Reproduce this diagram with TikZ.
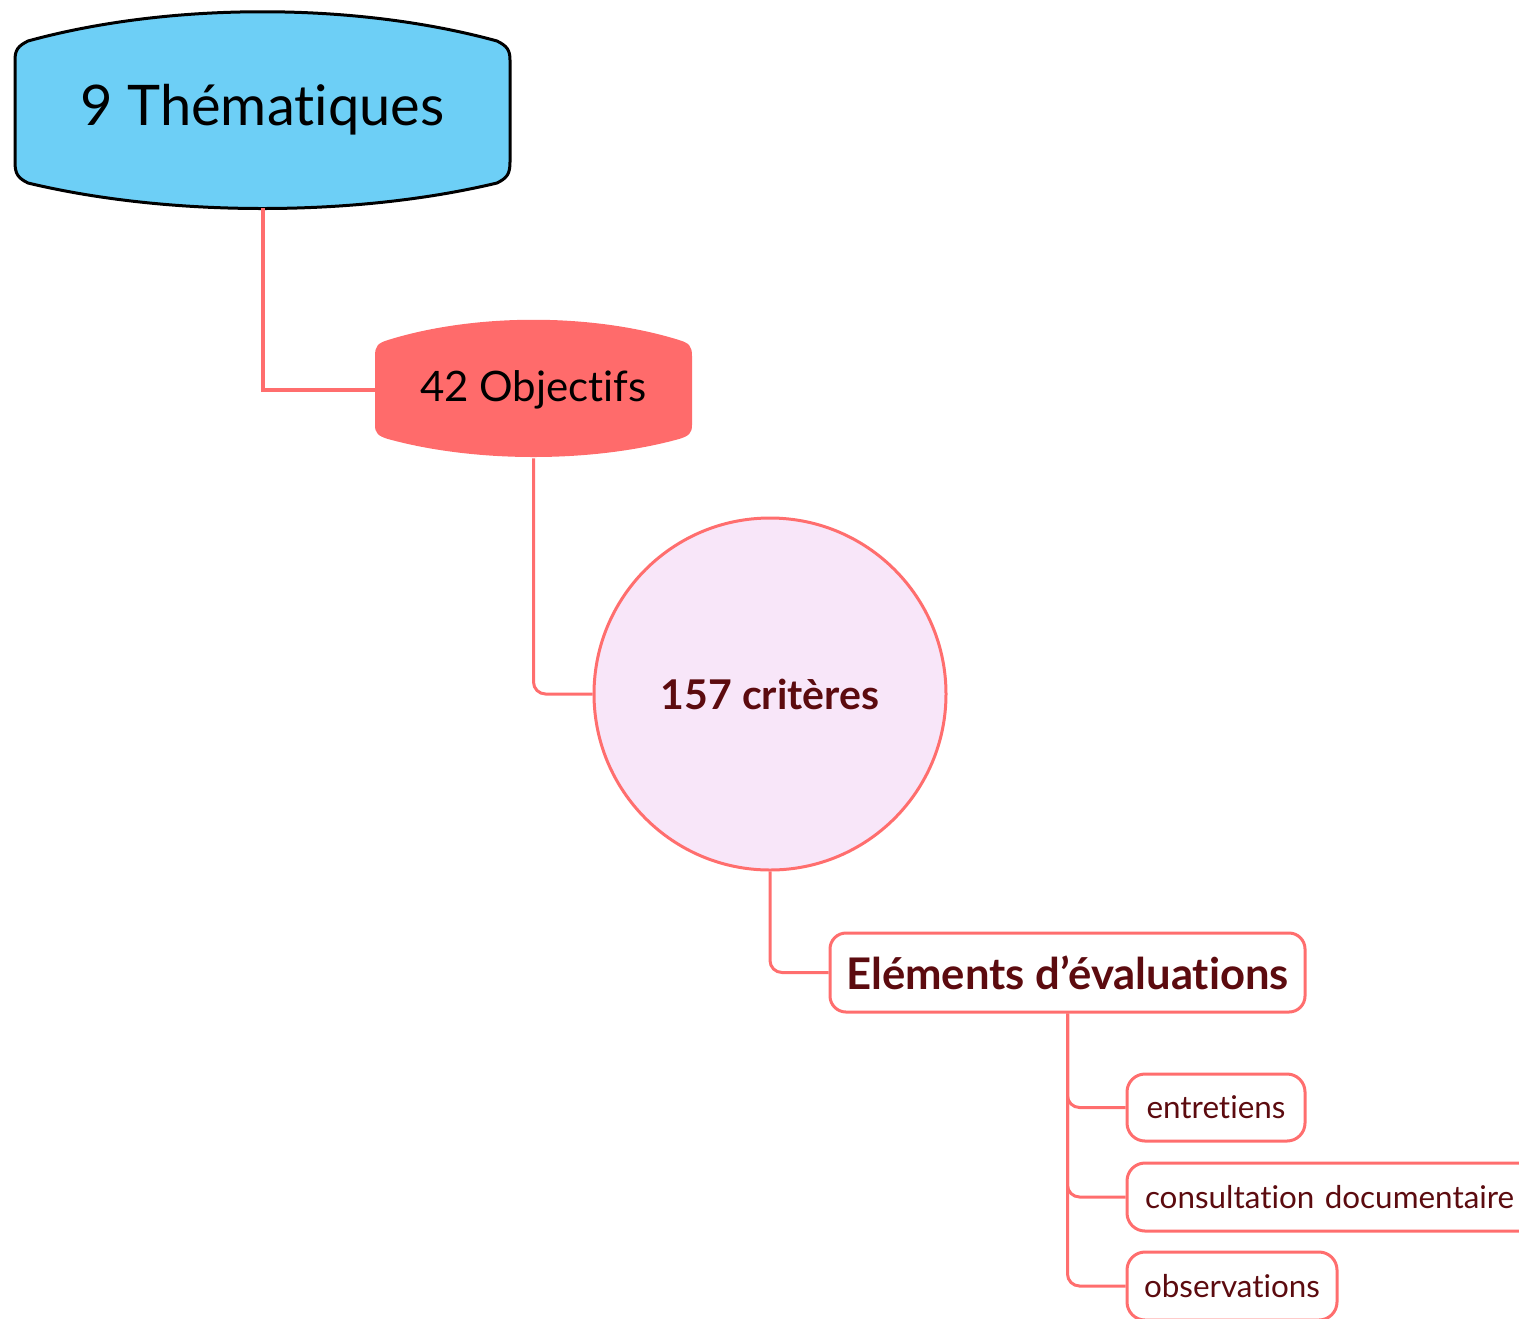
\documentclass[tikz,border=0pt]{standalone}
\usepackage{fontspec}
\setmainfont[Ligatures={NoCommon}]{Lato}
\usetikzlibrary{shapes.misc}
\definecolor{skyblue}{HTML}{6DCFF6}
\definecolor{coral}{HTML}{FF6B6B}
\definecolor{linecoral}{HTML}{FF6E6E}
\definecolor{lilac}{HTML}{F8E6F9}
\definecolor{maroon}{HTML}{5C0B0F}
\tikzset{
  lbl/.style={inner sep=0pt, align=center},
  conn/.style={draw=linecoral, line width=1.5pt, rounded corners=6pt},
  leafbox/.style={draw=linecoral, line width=1.5pt, rounded corners=9pt, fill=white, inner sep=0pt, text=maroon, font=\fontsize{15.7}{18}\selectfont},
}
\begin{document}
\begin{tikzpicture}[x=0.5pt,y=-0.5pt]
\useasboundingbox (0,0) rectangle (1519,1318);
% shapes of the two top blocks
\draw[fill=skyblue, line width=1.5pt, line join=round]
  (15,60) -- (15,162) .. controls (15,174) and (18,178) .. (28,183)
  .. controls (170,217) and (355,217) .. (497,183)
  .. controls (507,178) and (510,174) .. (510,162) -- (510,60)
  .. controls (510,50) and (507,46) .. (497,41)
  .. controls (355,2) and (170,2) .. (28,41)
  .. controls (18,46) and (15,50) .. (15,60) -- cycle;
\fill[coral]
  (375,356) -- (375,425) .. controls (375,433) and (378,436) .. (388,439)
  .. controls (475,463) and (592,463) .. (679,439)
  .. controls (689,436) and (692,433) .. (692,425) -- (692,356)
  .. controls (692,346) and (689,343) .. (679,340)
  .. controls (592,313) and (475,313) .. (388,340)
  .. controls (378,343) and (375,346) .. (375,356) -- cycle;
% nodes
\node[lbl, minimum width=247.5pt, minimum height=98pt, font=\fontsize{28}{32}\selectfont] (them) at (262.5,110) {9 Thématiques};
\node[lbl, minimum width=158.5pt, minimum height=68.5pt, font=\fontsize{21}{25}\selectfont] (obj) at (533.5,389.5) {42 Objectifs};
\node[circle, draw=linecoral, line width=1.5pt, fill=lilac, minimum size=176pt, inner sep=0pt, text=maroon, font=\bfseries\fontsize{20.5}{24}\selectfont] (crit) at (770,694) {157 critères};
\node[draw=linecoral, line width=1.5pt, rounded corners=8pt, fill=white, minimum width=237.5pt, minimum height=39.5pt, inner sep=0pt, text=maroon, font=\bfseries\fontsize{21.8}{26}\selectfont] (elem) at (1067.5,972.5) {Eléments d’évaluations};
\node[leafbox, minimum width=89pt, minimum height=33.5pt] (ent) at (1216,1107.5) {entretiens};
\node[leafbox, minimum width=210pt, minimum height=34pt, text width=204pt, align=left] (cons) at (1337,1197) {\hspace*{6pt}consultation documentaire};
\node[leafbox, minimum width=105pt, minimum height=34pt] (obs) at (1232,1286) {observations};
% connectors
\draw[draw=linecoral, line width=2pt] (them.south) |- (obj.west);
\draw[conn] (obj.south) |- (crit.west);
\draw[conn] (crit.south) |- (elem.west);
\draw[conn] (elem.south) |- (ent.west);
\draw[conn] (elem.south) |- (cons.west);
\draw[conn] (elem.south) |- (obs.west);
\end{tikzpicture}
\end{document}
